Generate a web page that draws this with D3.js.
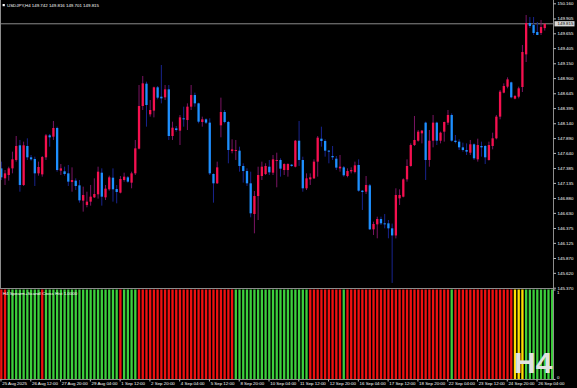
<!DOCTYPE html>
<html><head><meta charset="utf-8">
<script src="https://cdn.jsdelivr.net/npm/d3@7"></script>
<style>html,body{margin:0;padding:0;background:#000;}svg{display:block;}</style>
</head><body>
<svg id="c" width="577" height="388"></svg>
<script>
// ---- data ----
const symbolTitle = "USDJPY,H4  149.742 149.816 149.701 149.815";
const indicatorTitle = "H4  Spearm+Scandl Cross Hist 1.0000";
const opens = [147.380,147.212,147.268,147.380,147.521,147.768,147.100,147.757,147.566,147.538,
147.296,147.279,147.566,147.936,147.914,148.060,147.341,147.330,147.296,147.150,
147.173,147.094,146.836,146.763,146.819,146.892,146.943,147.307,146.892,147.027,
147.223,147.032,146.971,147.184,147.229,147.139,147.296,147.712,148.430,148.806,
148.290,148.352,148.745,148.587,148.576,148.711,147.925,148.054,148.015,148.223,
148.194,148.419,148.615,148.475,148.161,148.206,148.150,147.285,147.128,148.105,
148.329,148.161,147.672,147.678,147.678,147.420,147.335,147.128,146.611,146.914,
147.251,147.285,147.408,147.307,147.510,147.521,147.352,147.352,147.442,147.408,
147.846,147.521,147.044,147.195,147.212,147.493,147.880,147.841,147.678,147.588,
147.543,147.380,147.397,147.251,147.330,147.319,147.437,147.004,146.987,147.094,
146.353,146.437,146.527,146.454,146.454,146.370,146.250,146.875,146.903,147.195,
147.420,147.773,147.846,147.970,148.150,147.521,147.846,148.150,147.846,147.998,
148.150,148.279,147.846,147.830,147.734,147.689,147.644,147.785,147.532,147.757,
147.757,147.521,147.757,147.886,148.251,148.655,148.756,148.829,148.554,148.587,
148.750,149.300,149.828,149.795,149.677,149.660,149.742];
const highs = [147.493,147.352,147.408,147.661,147.925,147.858,147.830,147.886,147.605,147.577,
147.493,147.588,147.959,147.959,148.178,148.082,147.453,147.408,147.437,147.397,
147.212,147.184,147.072,146.987,147.100,147.212,147.408,147.380,147.100,147.257,
147.380,147.100,147.251,147.307,147.251,147.324,147.858,148.784,148.936,148.840,
148.531,148.756,148.767,149.121,148.784,148.784,148.166,148.093,148.279,148.419,
148.475,148.784,148.655,148.486,148.251,148.223,148.223,147.296,147.493,148.571,
148.363,148.178,147.869,147.858,147.745,147.465,147.380,147.324,146.999,147.408,
147.493,147.465,147.521,147.605,147.644,147.549,147.465,147.465,147.453,147.858,
148.178,147.577,147.296,147.296,147.532,147.925,148.082,147.869,147.689,147.757,
147.588,147.605,147.420,147.380,147.397,147.493,147.532,147.015,147.251,147.117,
146.482,146.566,146.566,146.611,146.510,146.450,147.044,147.027,147.212,147.532,
147.801,148.262,148.026,148.026,148.166,148.026,148.279,148.166,147.998,148.166,
148.363,148.307,147.942,147.869,147.813,147.801,147.858,147.801,147.880,147.830,
147.773,147.830,147.981,148.279,148.700,148.812,148.913,148.840,148.616,148.756,
149.458,149.963,149.929,149.929,149.845,149.879,149.816];
const lows = [147.184,147.100,147.173,147.296,147.493,146.987,147.083,147.521,147.510,147.083,
147.257,147.240,147.521,147.745,147.858,147.324,147.268,147.257,147.083,146.987,
147.015,146.802,146.651,146.724,146.752,146.881,146.870,146.752,146.847,147.004,
146.819,146.791,146.959,147.156,147.139,147.044,147.268,147.700,148.363,148.082,
148.251,148.239,148.543,148.475,148.531,147.858,147.858,147.998,147.773,148.082,
148.026,148.363,148.419,148.138,148.082,148.127,147.268,146.802,147.117,147.903,
148.138,147.465,147.633,147.521,147.324,147.139,147.083,146.555,146.286,146.510,
147.184,147.268,147.268,147.268,147.061,147.240,147.268,147.240,147.408,147.397,
147.420,146.987,147.015,147.100,147.201,147.240,147.745,147.577,147.465,147.521,
147.352,147.324,147.240,147.229,147.296,147.296,146.987,146.679,146.948,146.342,
146.258,146.202,146.426,146.370,146.202,145.450,146.200,146.763,146.892,147.156,
147.408,147.757,147.830,147.801,147.184,147.408,147.734,147.773,147.801,147.830,
148.110,147.830,147.801,147.689,147.661,147.605,147.605,147.521,147.493,147.577,
147.453,147.510,147.700,147.869,148.206,148.644,148.728,148.559,148.543,148.559,
148.666,149.171,149.744,149.626,149.626,149.626,149.701];
const closes = [147.229,147.296,147.380,147.532,147.757,147.100,147.768,147.566,147.532,147.296,
147.403,147.571,147.936,147.903,148.060,147.352,147.380,147.285,147.156,147.184,
147.083,146.841,146.931,146.819,146.903,146.948,147.324,146.903,147.038,147.229,
147.027,146.982,147.201,147.240,147.156,147.296,147.717,148.430,148.812,148.447,
148.363,148.745,148.571,148.559,148.711,147.925,148.065,148.026,148.239,148.206,
148.419,148.615,148.475,148.166,148.206,148.150,147.296,147.128,147.397,148.329,
148.161,147.689,147.700,147.689,147.420,147.335,147.128,146.623,146.914,147.268,
147.408,147.420,147.313,147.532,147.521,147.375,147.453,147.453,147.420,147.846,
147.521,147.044,147.212,147.229,147.493,147.897,147.841,147.678,147.661,147.566,
147.392,147.408,147.263,147.335,147.352,147.431,147.004,146.982,147.100,146.353,
146.443,146.527,146.454,146.443,146.370,146.250,146.931,146.931,147.195,147.420,
147.773,147.858,147.998,148.015,147.521,147.846,148.150,147.846,147.981,148.161,
148.279,147.846,147.824,147.734,147.689,147.661,147.785,147.549,147.773,147.734,
147.566,147.773,147.886,148.251,148.672,148.767,148.879,148.576,148.599,148.728,
149.340,149.828,149.778,149.660,149.626,149.761,149.815];
// histogram state per bar: R = red, G = green, Y = yellow
const histStates = ("RR" + "GGGGGGGGG" + "R" + "GGGGGGGGGGGGGGGGGGGG" + "R" + "GGGG" +
  "RRRRRRRRRRRRRRRRRRRRRRRRRR" + "GGGGGGGGGGGGGGGGGGGG" + "RRRRRRRRR" + "G" +
  "RRRRRRRRRRRRRRRRRRRRRRRRRRRR" + "G" + "RRRRRRRRRRRRRRRR" + "YYY" + "GGGGGGGG").split("");
const priceTicks = [150.160,149.905,149.655,149.405,149.150,148.900,148.645,148.395,148.140,147.890,
147.640,147.385,147.135,146.880,146.630,146.375,146.125,145.870,145.620,145.370];
const timeTickIdx = [0,8,16,24,32,40,48,56,64,72,80,88,96,104,112,120,128,136,144];
const timeTickLabels = ["25 Aug 2025","26 Aug 12:00","27 Aug 20:00","29 Aug 04:00","1 Sep 12:00",
"2 Sep 20:00","4 Sep 04:00","5 Sep 12:00","8 Sep 20:00","10 Sep 04:00","11 Sep 12:00",
"12 Sep 20:00","16 Sep 04:00","17 Sep 12:00","18 Sep 20:00","22 Sep 04:00","23 Sep 12:00",
"24 Sep 20:00","26 Sep 04:00"];
const lastPrice = 149.815;

// ---- drawing ----
const svg = d3.select("#c");
const FONT = "'Liberation Sans', Arial, sans-serif";
const axisX = 553.5;
svg.append("rect").attr("width",577).attr("height",388).attr("fill","#000");

const x = d3.scaleLinear().domain([0, histStates.length - 1]).range([1.3, 552.2]);
const y = d3.scaleLinear().domain([145.370, 150.160]).range([287.7, 3.3]);
const yi = d3.scaleLinear().domain([0, 1]).range([379, 289.5]);

const candles = opens.map((o,i)=>({i, o, h:highs[i], l:lows[i], c:closes[i]}));

// price line
svg.append("line").attr("x1",0).attr("x2",axisX).attr("y1",y(lastPrice)).attr("y2",y(lastPrice))
  .attr("stroke","#8a8a8a").attr("stroke-width",1);

const cg = svg.append("g");
cg.selectAll("line.w").data(candles).join("line").attr("class","w")
  .attr("x1",d=>x(d.i)).attr("x2",d=>x(d.i))
  .attr("y1",d=>y(d.h)).attr("y2",d=>y(d.l))
  .attr("stroke",d=>d.c>=d.o?"#7a1463":"#18248e").attr("stroke-width",1);
cg.selectAll("rect").data(candles).join("rect")
  .attr("x",d=>x(d.i)-1.15).attr("width",2.3)
  .attr("y",d=>y(Math.max(d.o,d.c)))
  .attr("height",d=>Math.max(1, y(Math.min(d.o,d.c)) - y(Math.max(d.o,d.c))))
  .attr("fill",d=>d.c>=d.o?"#f5104f":"#1e90ff");

// indicator histogram
const histColor = {R:"#ef1010", G:"#3ccf3c", Y:"#ffdf00"};
svg.append("g").selectAll("rect").data(histStates).join("rect")
  .attr("x",(d,j)=>x(j)-1.15).attr("width",2.3)
  .attr("y",yi(1)).attr("height",yi(0)-yi(1))
  .attr("fill",d=>histColor[d]);

// frame lines
const frame = svg.append("g").attr("stroke","#8c8c8c").attr("stroke-width",1);
frame.append("line").attr("x1",axisX).attr("x2",axisX).attr("y1",0).attr("y2",380);
frame.append("line").attr("x1",0).attr("x2",axisX).attr("y1",288.5).attr("y2",288.5);
frame.append("line").attr("x1",0).attr("x2",axisX).attr("y1",379.5).attr("y2",379.5);
frame.append("line").attr("x1",0.5).attr("x2",0.5).attr("y1",0).attr("y2",288);

// price axis
const ya = svg.append("g").attr("transform",`translate(${axisX},0)`)
  .call(d3.axisRight(y).tickValues(priceTicks).tickFormat(d3.format(".3f")).tickSize(2.5).tickPadding(1.5));
ya.select(".domain").remove();
ya.selectAll("line").attr("stroke","#bbbbbb");
ya.selectAll("text").attr("fill","#ffffff").style("font-family",FONT).style("font-size","4.4px");

// current price label
const lp = svg.append("g").attr("transform",`translate(${axisX+1},${y(lastPrice)})`);
lp.append("rect").attr("x",0).attr("y",-2.6).attr("width",20).attr("height",5.2).attr("fill","#d8d8d8");
lp.append("text").attr("x",3).attr("y",0).attr("dy","0.35em").text(d3.format(".3f")(lastPrice))
  .attr("fill","#000").style("font-family",FONT).style("font-size","4.4px");

// indicator axis labels
const ia = svg.append("g").attr("transform",`translate(${axisX},0)`)
  .call(d3.axisRight(yi).tickValues([0,1]).tickFormat(d3.format("d")).tickSize(2).tickPadding(1.5));
ia.select(".domain").remove();
ia.selectAll("line").attr("stroke","#bbbbbb");
ia.selectAll("text").attr("fill","#ffffff").style("font-family",FONT).style("font-size","4.4px")
  .attr("dy",(d)=>d===1?"1em":"-0.1em");

// time axis
const xa = svg.append("g").attr("transform","translate(-0.8,379.5)")
  .call(d3.axisBottom(x).tickValues(timeTickIdx).tickFormat((d,k)=>timeTickLabels[k]).tickSize(2).tickPadding(0.8));
xa.select(".domain").remove();
xa.selectAll("line").attr("stroke","#bbbbbb");
xa.selectAll("text").attr("fill","#ffffff").attr("text-anchor","start").attr("x",1.2)
  .style("font-family",FONT).style("font-size","4.4px");

// titles
svg.append("rect").attr("x",2.6).attr("y",4).attr("width",2.2).attr("height",2.2).attr("fill","#fff");
svg.append("text").attr("x",7).attr("y",7).text(symbolTitle)
  .attr("fill","#ffffff").style("font-family",FONT).style("font-size","4.4px");
svg.append("text").attr("x",2.8).attr("y",295).text(indicatorTitle)
  .attr("fill","#ffffff").style("font-family",FONT).style("font-size","4.4px");

// big timeframe watermark
svg.append("text").attr("x",514).attr("y",372.5).text("H4")
  .attr("fill","#e2e2e2").style("font-family",FONT).style("font-weight","bold").style("font-size","30px");
</script>
</body></html>
